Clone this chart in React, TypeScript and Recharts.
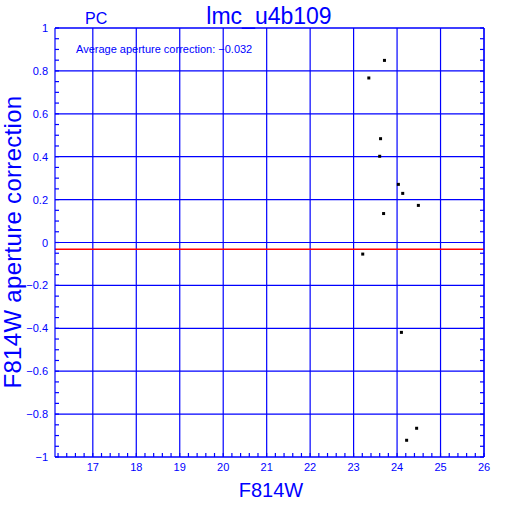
import { ScatterChart, Scatter, XAxis, YAxis, ReferenceLine } from "recharts";

// F814W magnitude vs aperture correction
const MAG = [23.71, 23.35, 23.62, 23.6, 24.03, 24.13, 24.49, 23.69, 23.21, 24.1, 24.45, 24.22];
const CORR = [0.849, 0.767, 0.484, 0.402, 0.271, 0.229, 0.173, 0.135, -0.054, -0.419, -0.866, -0.922];
const AVG_CORR = -0.032;

const X_TICKS = [17, 18, 19, 20, 21, 22, 23, 24, 25, 26];
const Y_TICKS = [-1, -0.8, -0.6, -0.4, -0.2, 0, 0.2, 0.4, 0.6, 0.8, 1];
const X_DOMAIN: [number, number] = [16.13, 26];
const Y_DOMAIN: [number, number] = [-1, 1];

// minor ticks every 0.2 mag and every 0.05 in correction
const X_ALL: number[] = [];
for (let i = 81; i <= 130; i++) X_ALL.push(i / 5);
const Y_ALL: number[] = [];
for (let i = -20; i <= 20; i++) Y_ALL.push(i / 20);

const BLUE = "#0000ff";
const FONT = "Liberation Sans";
const SW = 1.2;

const data = MAG.map((m, i) => ({ mag: m, corr: CORR[i] }));

const isMajorX = (v: number) => Math.abs(v - Math.round(v)) < 1e-6;
const isMajorY = (v: number) => Math.abs(v * 5 - Math.round(v * 5)) < 1e-6;

const fmtY = (v: number) => {
  const r = Math.round(v * 10) / 10;
  return r < 0 ? "\u2212" + String(-r) : String(r);
};

const XTick = (p: { x?: number; y?: number; payload?: { value: number } }) =>
  p.payload && isMajorX(p.payload.value) ? (
    <text x={p.x} y={(p.y ?? 0) + 18} textAnchor="middle" fill={BLUE} fontSize={11} fontFamily={FONT}>
      {p.payload.value}
    </text>
  ) : <g />;

const YTick = (p: { x?: number; y?: number; payload?: { value: number } }) =>
  p.payload && isMajorY(p.payload.value) ? (
    <text x={(p.x ?? 0) - 11} y={(p.y ?? 0) + 4} textAnchor="end" fill={BLUE} fontSize={11} fontFamily={FONT}>
      {fmtY(p.payload.value)}
    </text>
  ) : <g />;

const NoLabel = () => <g />;

const Dot = (p: { cx?: number; cy?: number }) =>
  p.cx == null || p.cy == null ? null : <rect x={p.cx - 1.5} y={p.cy - 1.5} width={3} height={3} fill="#000" />;

export default function App() {
  const line = { stroke: BLUE, strokeWidth: SW };
  return (
    <div style={{ position: "absolute", left: 0, top: 0, width: 512, height: 512, background: "#fff" }}>
      <ScatterChart width={512} height={512} margin={{ top: 27, right: 27, bottom: 25, left: 10 }}>
        <XAxis
          dataKey="mag" type="number" domain={X_DOMAIN} ticks={X_ALL} allowDataOverflow interval={0}
          height={30} tickSize={-4} tickMargin={0} tick={XTick} tickLine={line} axisLine={line}
        />
        <YAxis
          dataKey="corr" type="number" domain={Y_DOMAIN} ticks={Y_ALL} allowDataOverflow interval={0}
          width={45} tickSize={-4} tickMargin={0} tick={YTick} tickLine={line} axisLine={line}
        />
        <XAxis xAxisId="top" orientation="top" type="number" domain={X_DOMAIN} ticks={X_ALL} allowDataOverflow
          interval={0} height={1} tickSize={-4} tickMargin={0} tick={NoLabel} tickLine={line} axisLine={line} />
        <YAxis yAxisId="right" orientation="right" type="number" domain={Y_DOMAIN} ticks={Y_ALL} allowDataOverflow
          interval={0} width={1} tickSize={-4} tickMargin={0} tick={NoLabel} tickLine={line} axisLine={line} />
        {/* grid at the major ticks */}
        {X_TICKS.map((t) => <ReferenceLine key={"gx" + t} x={t} stroke={BLUE} strokeWidth={SW} />)}
        {Y_TICKS.map((t) => <ReferenceLine key={"gy" + t} y={t} stroke={BLUE} strokeWidth={SW} />)}
        <ReferenceLine y={AVG_CORR} stroke="#ff0000" strokeWidth={1.5} />
        <Scatter data={data} shape={<Dot />} isAnimationActive={false} />
      </ScatterChart>
      <svg width={512} height={512} style={{ position: "absolute", left: 0, top: 0, pointerEvents: "none" }}>
        <text x={269} y={24} textAnchor="middle" fill={BLUE} fontSize={23} fontFamily={FONT}>lmc_u4b109</text>
        <text x={85} y={24} fill={BLUE} fontSize={16} fontFamily={FONT}>PC</text>
        <text x={76} y={53} fill={BLUE} fontSize={11} fontFamily={FONT}>Average aperture correction: {"\u2212"}0.032</text>
        <text x={271} y={497} textAnchor="middle" fill={BLUE} fontSize={20} fontFamily={FONT}>F814W</text>
        <text x={0} y={0} transform="translate(21,242) rotate(-90)" textAnchor="middle" fill={BLUE}
          fontSize={24} fontFamily={FONT} letterSpacing={0.3}>F814W aperture correction</text>
      </svg>
    </div>
  );
}
